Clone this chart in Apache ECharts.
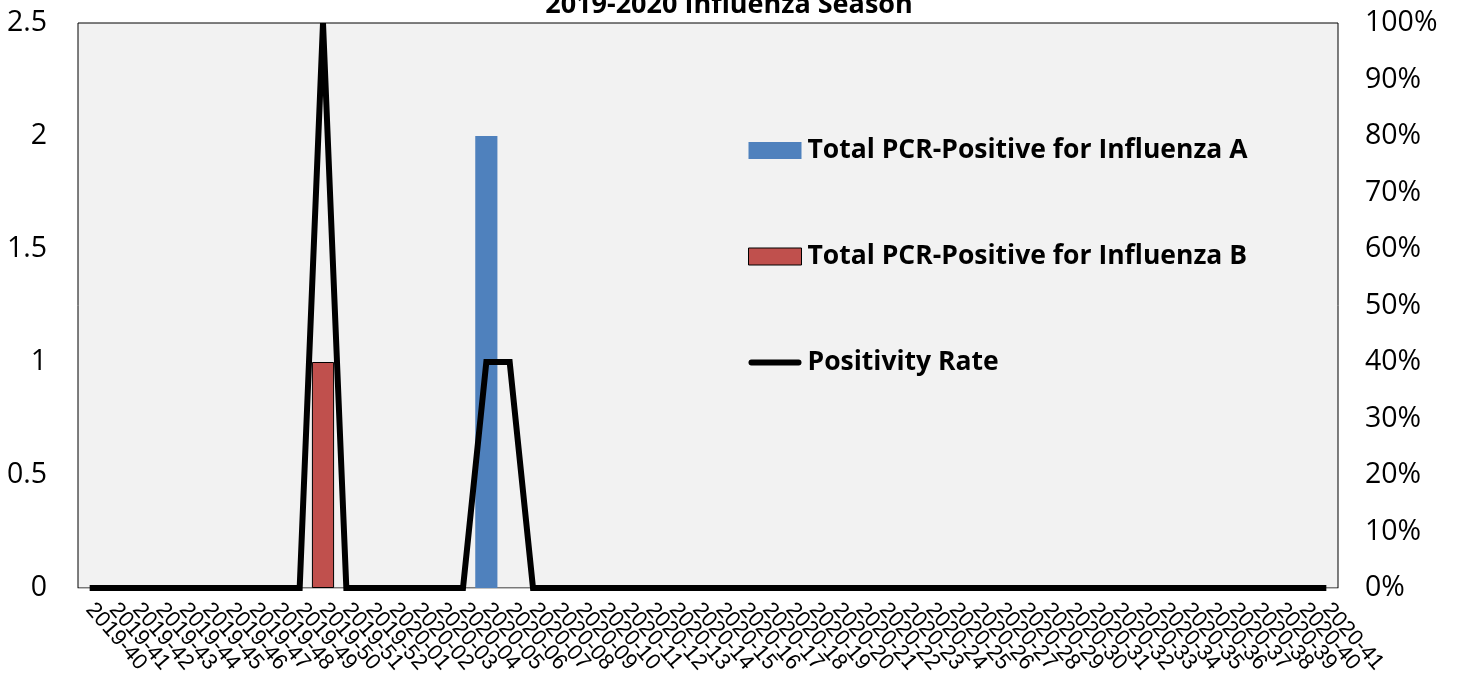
<!DOCTYPE html>
<html>
<head>
<meta charset="utf-8">
<script src="https://cdn.jsdelivr.net/npm/echarts@6/dist/echarts.min.js"></script>
<style>
  html, body { margin: 0; padding: 0; background: #fff; }
  #chart { width: 1458px; height: 679px; }
</style>
</head>
<body>
<div id="chart"></div>
<script>
// weeks of the season
var weeks = [
  '2019-40', '2019-41', '2019-42', '2019-43', '2019-44', '2019-45', '2019-46', '2019-47',
  '2019-48', '2019-49', '2019-50', '2019-51', '2019-52',
  '2020-01', '2020-02', '2020-03', '2020-04', '2020-05', '2020-06', '2020-07', '2020-08',
  '2020-09', '2020-10', '2020-11', '2020-12', '2020-13', '2020-14', '2020-15', '2020-16',
  '2020-17', '2020-18', '2020-19', '2020-20', '2020-21', '2020-22', '2020-23', '2020-24',
  '2020-25', '2020-26', '2020-27', '2020-28', '2020-29', '2020-30', '2020-31', '2020-32',
  '2020-33', '2020-34', '2020-35', '2020-36', '2020-37', '2020-38', '2020-39', '2020-40',
  '2020-41'
]
var fluA = [
  0, 0, 0, 0, 0, 0, 0, 0, 0, 0, 0, 0, 0,
  0, 0, 0, 0, 2, 0, 0, 0, 0, 0, 0, 0, 0, 0, 0, 0,
  0, 0, 0, 0, 0, 0, 0, 0, 0, 0, 0, 0, 0, 0, 0, 0,
  0, 0, 0, 0, 0, 0, 0, 0, 0
]
var fluB = [
  0, 0, 0, 0, 0, 0, 0, 0, 0, 0, 1, 0, 0,
  0, 0, 0, 0, 0, 0, 0, 0, 0, 0, 0, 0, 0, 0, 0, 0,
  0, 0, 0, 0, 0, 0, 0, 0, 0, 0, 0, 0, 0, 0, 0, 0,
  0, 0, 0, 0, 0, 0, 0, 0, 0
]
// percent
var posRate = [
  0, 0, 0, 0, 0, 0, 0, 0, 0, 0, 100, 0, 0,
  0, 0, 0, 0, 40, 40, 0, 0, 0, 0, 0, 0, 0, 0, 0, 0,
  0, 0, 0, 0, 0, 0, 0, 0, 0, 0, 0, 0, 0, 0, 0, 0,
  0, 0, 0, 0, 0, 0, 0, 0, 0
]
var leftTicks = { min: 0, max: 2.5, interval: 0.5 }
var rightTicks = { min: 0, max: 100, interval: 10 }

// Excel leaves zero bars empty
function noZero (arr) {
  return arr.map(function (v) { return v === 0 ? '-' : v })
}

var font = '"Open Sans", sans-serif'
var myChart = echarts.init(document.getElementById('chart'))
myChart.setOption({
  animation: false,
  title: {
    text: '2019-2020 Influenza Season',
    left: 'center',
    top: -13,
    textStyle: { fontFamily: font, fontSize: 27, fontWeight: 'bold', color: '#000' }
  },
  grid: {
    left: 78,
    right: 120,
    top: 23,
    bottom: 91,
    show: true,
    backgroundColor: '#f2f2f2',
    borderColor: '#000',
    borderWidth: 1
  },
  legend: {
    orient: 'vertical',
    left: 743,
    top: 132,
    itemGap: 79,
    itemWidth: 53,
    itemHeight: 17,
    textStyle: { fontFamily: font, fontSize: 26.5, fontWeight: 'bold', color: '#000', padding: [0, 0, 0, 1] },
    data: [
      { name: 'Total PCR-Positive for Influenza A', icon: 'rect' },
      { name: 'Total PCR-Positive for Influenza B', icon: 'rect', itemStyle: { borderWidth: 1, borderColor: '#000' } },
      { name: 'Positivity Rate', icon: 'path://M3,0 L51,0 A3,3 0 0 1 51,6 L3,6 A3,3 0 0 1 3,0 Z', itemStyle: { color: '#000' } }
    ]
  },
  xAxis: {
    type: 'category',
    data: weeks,
    axisTick: { show: false },
    axisLine: { lineStyle: { color: '#bfbfbf', width: 1 } },
    axisLabel: {
      interval: 0,
      rotate: -49,
      margin: 18,
      fontFamily: '"Liberation Sans", Arial, sans-serif',
      fontSize: 22,
      color: '#000'
    }
  },
  yAxis: [
    {
      type: 'value',
      min: leftTicks.min,
      max: leftTicks.max,
      interval: leftTicks.interval,
      splitLine: { show: false },
      axisLine: { show: false },
      axisTick: { show: false },
      axisLabel: { margin: 31, fontFamily: font, fontSize: 28.5, color: '#000' }
    },
    {
      type: 'value',
      min: rightTicks.min,
      max: rightTicks.max,
      interval: rightTicks.interval,
      splitLine: { show: false },
      axisLine: { show: false },
      axisTick: { show: false },
      axisLabel: { margin: 27, formatter: '{value}%', fontFamily: font, fontSize: 28.5, color: '#000' }
    }
  ],
  series: [
    {
      name: 'Total PCR-Positive for Influenza A',
      type: 'bar',
      stack: 'flu',
      barCategoryGap: '5%',
      itemStyle: { color: '#4f81bd' },
      data: noZero(fluA)
    },
    {
      name: 'Total PCR-Positive for Influenza B',
      type: 'bar',
      stack: 'flu',
      itemStyle: { color: '#c0504d', borderColor: '#000', borderWidth: 1 },
      data: noZero(fluB)
    },
    {
      name: 'Positivity Rate',
      type: 'line',
      yAxisIndex: 1,
      symbol: 'none',
      lineStyle: { color: '#000', width: 6, join: 'miter' },
      itemStyle: { color: '#000' },
      data: posRate
    }
  ]
})
</script>
</body>
</html>
